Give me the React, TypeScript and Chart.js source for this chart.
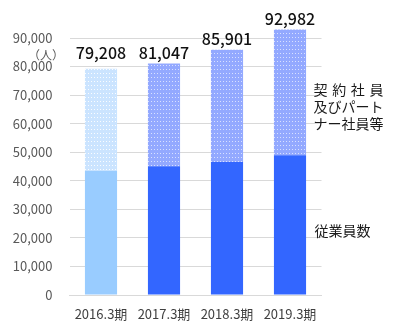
import React, { useEffect, useRef } from "react";
import { Chart, registerables } from "chart.js";

Chart.register(...registerables);

// Fiscal periods (March year-end)
const periods = ["2016.3期", "2017.3期", "2018.3期", "2019.3期"];
// Regular employees per period
const employees = [43500, 45100, 46600, 48900];
// Total headcount incl. contract / part-time staff (labelled on top)
const totals = [79208, 81047, 85901, 92982];
// Axis ticks
const yMax = 90000;
const yStep = 10000;

const FONT = "'Noto Sans CJK JP', 'Noto Sans', sans-serif";

function dotted(base: string, dot: string): CanvasPattern | string {
  const c = document.createElement("canvas");
  c.width = 3;
  c.height = 4;
  const g = c.getContext("2d");
  if (!g) return base;
  g.fillStyle = base;
  g.fillRect(0, 0, 3, 4);
  g.fillStyle = dot;
  g.fillRect(1, 1, 1, 1);
  const p = g.createPattern(c, "repeat");
  return p || base;
}

const overlayText = {
  id: "overlayText",
  afterDatasetsDraw(chart: any) {
    const { ctx } = chart;
    const y = chart.scales.y;
    const meta = chart.getDatasetMeta(1);
    ctx.save();
    // totals above each stack; the first one is lifted level with its neighbour
    ctx.font = `500 16px ${FONT}`;
    ctx.fillStyle = "#111111";
    ctx.textAlign = "center";
    ctx.textBaseline = "middle";
    meta.data.forEach((bar: any, i: number) => {
      const top = i === 0 && meta.data[1] ? Math.min(bar.y, meta.data[1].y) : bar.y;
      ctx.fillText(totals[i].toLocaleString("en-US"), bar.x, top - 11);
    });
    // unit caption
    ctx.font = `12px ${FONT}`;
    ctx.fillStyle = "#595959";
    ctx.fillText("（人）", 46, 55);

    // series captions to the right of the plot
    const right = chart.chartArea.right;
    ctx.font = `14px ${FONT}`;
    ctx.fillStyle = "#1a1a1a";
    ctx.textAlign = "left";
    const x0 = right - 8;
    const lineH = 17;
    const cy = y.getPixelForValue(66000);
    // first line spread across the block width
    const first = ["契", "約", "社", "員"];
    const blockW = 70;
    first.forEach((ch, k) => {
      const cx = x0 + (k * (blockW - 14)) / (first.length - 1);
      ctx.fillText(ch, cx, cy - lineH);
    });
    ctx.fillText("及びパート", x0, cy);
    ctx.fillText("ナー社員等", x0, cy + lineH);
    ctx.fillText("従業員数", x0 + 1, y.getPixelForValue(22500));
    ctx.restore();
  },
};

export default function App() {
  const ref = useRef<HTMLCanvasElement>(null);

  useEffect(() => {
    document.body.style.margin = "0";
    const canvas = ref.current;
    if (!canvas) return;

    const empColors = periods.map((_, i) => (i === 0 ? "#99CCFF" : "#3366FF"));
    const conColors = periods.map((_, i) =>
      i === 0
        ? dotted("#CBE4FF", "rgba(255,255,255,0.9)")
        : dotted("#93A9FF", "rgba(220,228,255,0.95)")
    );

    const chart = new Chart(canvas, {
      type: "bar",
      data: {
        labels: periods,
        datasets: [
          {
            label: "従業員数",
            data: employees,
            backgroundColor: empColors,
            barPercentage: 1,
            categoryPercentage: 0.51,
            clip: false,
          },
          {
            label: "契約社員及びパートナー社員等",
            data: totals.map((t, i) => t - employees[i]),
            backgroundColor: conColors as any,
            barPercentage: 1,
            categoryPercentage: 0.51,
            clip: false,
          },
        ],
      },
      options: {
        animation: false,
        responsive: false,
        devicePixelRatio: 1,
        layout: { padding: { top: 38, right: 78.5, left: 0, bottom: 0 } },
        plugins: {
          legend: { display: false },
          tooltip: { enabled: false },
        },
        scales: {
          x: {
            stacked: true,
            grid: { display: false, drawTicks: false },
            border: { display: true, color: "#D9D9D9" },
            ticks: {
              color: "#404040",
              font: { family: FONT, size: 13 },
              padding: 11,
              maxRotation: 0,
            },
            afterFit(scale: any) {
              scale.height = 30;
            },
          },
          y: {
            stacked: true,
            min: 0,
            max: yMax,
            grid: { color: "#D9D9D9", drawTicks: false },
            border: { display: false },
            ticks: {
              stepSize: yStep,
              color: "#595959",
              font: { family: FONT, size: 13 },
              padding: 17,
              callback: (v: any) => Number(v).toLocaleString("en-US"),
            },
            afterFit(scale: any) {
              scale.width = 69.5;
            },
          },
        },
      },
      plugins: [overlayText],
    });

    return () => chart.destroy();
  }, []);

  return <canvas ref={ref} width={400} height={325} style={{ display: "block" }} />;
}
